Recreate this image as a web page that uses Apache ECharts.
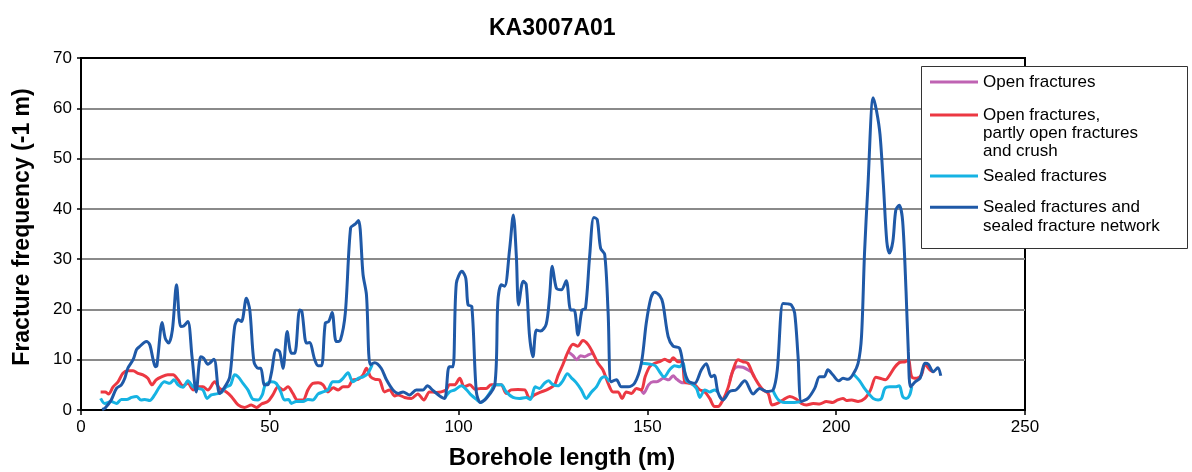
<!DOCTYPE html>
<html>
<head>
<meta charset="utf-8">
<script src="https://cdn.jsdelivr.net/npm/echarts@6/dist/echarts.min.js"></script>
<style>
  html, body { margin: 0; padding: 0; background: #fff; }
  #chart { width: 1192px; height: 472px; }
</style>
</head>
<body>
<div id="chart"></div>
<script>
var FONT = '"Liberation Sans", Arial, sans-serif';

// axis ticks
var xTicks = [0, 50, 100, 150, 200, 250];
var yTicks = [0, 10, 20, 30, 40, 50, 60, 70];

// series names (legend order)
var names = [
  'Open fractures',
  'Open fractures,\npartly open fractures\nand crush',
  'Sealed fractures',
  'Sealed fractures and\nsealed fracture network'
];

// Open fractures - only visible where it differs from the red curve
var openSeg1 = [[129.0,11.6],[130.3,10.8],[131.3,10.0],[132.3,10.8],[133.3,10.6],[134.5,11.0],[135.6,11.3]];
var openSeg2 = [[148.4,4.0],[149.0,3.3],[150.3,5.0],[151.5,5.6],[152.5,5.6],[154.3,6.3],[155.6,6.0],[156.8,6.8],[157.8,6.1],[159.4,5.4],[160.3,5.4]];
var openSeg3 = [[171.8,5.8],[172.8,8.0],[174.0,8.6],[175.3,8.5],[176.6,8.0],[177.6,7.5],[178.3,6.6]];

// Open fractures, partly open fractures and crush
var openPartly = [[5.2,3.6],[6.4,3.6],[7.3,3.2],[8.5,4.6],[9.8,5.6],[11.1,7.3],[12.4,7.8],[13.8,7.8],[15.1,7.3],[16.4,7.0],[17.7,6.3],[18.8,5.0],[19.9,6.0],[21.3,6.6],[23.0,7.0],[24.4,7.0],[25.7,6.0],[27.0,4.8],[28.3,5.3],[29.7,4.0],[31.0,4.6],[32.3,4.6],[33.6,4.0],[35.4,5.6],[36.7,4.3],[38.5,3.6],[39.8,2.7],[41.6,1.0],[43.3,0.5],[45.1,1.0],[46.5,0.5],[47.8,1.2],[49.5,1.7],[50.8,3.0],[52.2,4.6],[53.5,4.0],[54.8,4.6],[56.1,3.3],[57.3,2.0],[58.8,2.0],[60.1,4.0],[61.4,5.3],[62.8,5.4],[64.1,5.0],[65.4,3.6],[66.8,4.4],[68.1,4.0],[69.4,4.6],[70.7,4.6],[72.0,6.0],[73.4,6.1],[74.7,7.0],[75.6,8.3],[76.7,6.6],[77.9,6.1],[79.0,6.0],[80.4,3.6],[81.7,4.0],[83.1,2.8],[84.0,3.0],[85.7,2.5],[87.5,2.3],[89.2,3.2],[90.8,2.0],[92.3,3.6],[94.1,3.5],[95.4,3.6],[96.7,4.0],[97.6,5.0],[98.9,5.0],[100.3,6.3],[101.5,4.6],[103.0,5.0],[104.4,4.1],[105.8,4.3],[107.3,4.3],[108.6,5.0],[110.0,5.0],[111.3,5.0],[112.6,3.3],[113.9,4.0],[115.7,4.1],[117.5,4.0],[118.8,2.3],[120.1,3.0],[121.9,3.6],[123.6,4.1],[125.4,5.0],[126.3,6.8],[127.6,9.0],[129.0,11.6],[130.3,13.1],[131.6,12.7],[132.9,13.8],[134.3,13.0],[135.6,11.3],[136.9,9.3],[138.2,8.0],[139.6,5.3],[140.9,3.6],[142.2,3.6],[143.3,2.3],[144.4,3.6],[145.8,3.3],[147.1,4.3],[148.4,4.0],[149.4,6.6],[150.6,8.6],[151.9,9.3],[153.3,9.6],[154.6,10.1],[155.9,9.6],[156.8,10.4],[158.1,9.6],[159.2,9.6],[159.9,5.6],[161.2,5.3],[162.5,5.0],[163.9,4.0],[165.2,3.6],[166.5,2.3],[167.8,0.7],[168.7,0.7],[170.0,2.0],[171.3,4.3],[172.7,8.0],[174.0,10.0],[175.3,9.6],[176.6,9.3],[178.0,7.0],[179.3,5.3],[180.6,4.0],[182.0,3.3],[183.0,1.0],[184.4,1.3],[185.9,2.0],[187.7,2.7],[189.4,2.2],[190.8,1.3],[192.1,1.0],[193.9,1.3],[195.6,1.2],[197.4,1.7],[199.1,1.5],[200.4,2.0],[201.8,2.3],[202.7,1.9],[204.1,2.0],[205.8,1.7],[207.6,2.3],[209.1,4.0],[210.5,6.5],[211.6,6.3],[213.0,6.0],[214.2,7.0],[215.6,8.6],[216.9,9.5],[218.3,9.6],[219.1,10.0],[220.0,6.6],[221.3,6.3],[222.6,7.0],[223.5,9.1],[224.8,8.0],[225.7,7.6]];

// Sealed fractures - pieces not hidden under the dark blue curve
var sealedSeg1 = [[5.2,2.3],[6.3,1.3],[8.0,1.7],[9.4,1.3],[10.7,2.1],[12.1,2.1],[13.4,2.5],[14.7,2.7],[15.9,2.0],[16.9,2.1],[18.2,1.9],[19.5,3.0],[20.8,4.6],[22.1,5.6],[23.5,5.3],[24.6,6.0],[25.7,5.0],[27.0,4.5],[28.3,5.8],[29.7,4.6],[31.0,4.3],[32.3,4.0],[33.4,2.3],[34.5,3.0],[35.8,3.2],[37.2,3.5],[38.5,4.6],[39.6,5.0],[40.7,7.0],[41.6,6.6],[42.9,5.3],[44.2,4.0],[45.6,2.1],[46.9,2.0],[48.0,3.0],[48.8,5.0],[50.4,5.6],[51.7,5.3],[52.9,3.6],[53.9,2.0],[55.0,2.1],[55.7,1.3],[57.0,1.7],[58.8,1.7],[60.1,2.1],[61.4,2.0],[62.8,3.2],[64.1,3.6],[65.4,4.0],[66.7,5.6],[68.1,5.6],[69.4,6.3],[70.7,7.4],[72.0,5.6],[73.4,6.3],[74.7,6.6],[76.0,7.3],[77.1,9.0]];
var sealedSeg2 = [[96.3,2.3],[97.6,3.6],[99.0,4.0],[100.7,4.8],[102.0,4.1],[103.3,3.0],[104.7,2.1],[105.8,1.5],[107.3,2.4],[108.6,3.8],[109.6,5.0],[111.3,5.0],[112.6,3.6],[114.4,2.5],[116.1,2.3],[117.9,2.5],[119.0,2.1],[120.3,4.6],[121.4,4.3],[122.7,5.3],[123.8,5.8],[124.9,5.1],[126.3,4.8],[127.6,5.8],[128.8,7.2],[130.0,6.3],[131.2,5.4],[132.5,4.0],[133.8,2.3],[135.2,3.6],[136.5,4.6],[137.8,6.3],[138.7,6.6],[140.0,5.6]];
var sealedSeg3 = [[148.6,9.3],[150.8,9.1],[152.1,8.8],[153.5,7.3],[154.4,6.6],[155.9,8.0],[157.2,8.8],[158.5,8.6],[159.4,9.3],[160.3,5.9],[161.6,5.3],[163.0,4.3],[163.9,2.5],[165.2,4.0],[166.5,3.6],[167.8,4.0],[168.7,3.6]];
var sealedSeg4 = [[183.3,3.8],[184.6,2.1],[186.3,1.5],[188.5,1.5],[190.8,1.7]];
var sealedSeg5 = [[204.6,7.1],[206.2,5.8],[207.5,4.3],[208.9,3.0],[209.8,2.3],[211.1,2.0],[212.0,2.3],[212.9,4.3],[214.2,4.6],[215.6,4.6],[216.7,4.8],[217.6,2.7],[218.5,2.3],[219.4,2.9],[220.0,4.6]];

// Sealed fractures and sealed fracture network
var sealedNetwork = [[5.6,0.1],[6.4,0.4],[8.0,2.0],[9.4,4.3],[10.7,5.0],[11.6,6.3],[12.4,8.3],[13.8,10.0],[14.7,12.0],[15.5,12.6],[17.3,13.6],[18.2,13.0],[19.1,10.0],[19.7,8.6],[20.1,8.8],[21.5,17.4],[22.3,14.3],[23.2,13.3],[24.2,15.9],[25.3,24.9],[26.4,16.6],[27.2,16.7],[28.3,17.6],[29.4,10.6],[30.5,3.6],[31.7,10.6],[32.5,10.3],[33.6,9.1],[35.2,10.1],[36.7,3.3],[38.1,4.6],[39.4,6.6],[40.7,16.6],[41.6,18.0],[42.5,17.6],[43.8,22.2],[44.7,19.9],[45.8,9.6],[46.9,8.3],[47.6,8.3],[48.6,5.0],[49.5,5.0],[50.4,7.3],[51.7,12.0],[52.6,11.6],[53.5,8.3],[54.6,15.6],[55.7,11.3],[56.6,11.3],[57.9,19.9],[58.5,19.6],[59.7,13.3],[60.5,13.4],[61.9,10.0],[62.8,8.8],[63.7,8.8],[64.7,17.3],[65.6,17.6],[66.5,19.4],[67.6,13.6],[68.7,13.9],[70.0,19.3],[71.4,36.2],[72.5,36.9],[73.5,37.7],[74.7,26.9],[75.6,22.9],[76.6,9.0],[77.8,9.4],[79.5,8.3],[80.9,6.0],[82.6,4.0],[84.0,3.3],[85.3,3.6],[87.0,3.0],[88.8,4.0],[90.6,4.0],[91.7,4.8],[93.2,3.9],[95.0,2.8],[96.3,2.3],[97.5,8.6],[98.5,8.6],[99.4,25.2],[100.9,27.6],[101.9,26.2],[102.5,20.9],[103.5,20.6],[104.7,3.6],[105.8,1.5],[107.3,2.3],[109.6,5.0],[110.4,21.6],[111.3,24.9],[112.2,24.6],[113.5,31.9],[114.5,38.8],[115.3,30.5],[115.9,20.9],[117.1,25.6],[117.9,25.0],[118.8,14.6],[119.7,10.6],[120.6,15.9],[121.7,15.7],[123.2,17.1],[124.1,22.6],[124.8,28.6],[125.9,24.2],[127.2,23.9],[128.5,25.7],[129.7,19.9],[130.6,19.9],[131.6,14.9],[132.7,19.9],[133.6,20.2],[134.7,30.5],[135.8,38.3],[136.7,37.9],[137.6,32.2],[138.7,30.9],[139.6,19.3],[140.4,5.6],[141.8,6.0],[143.1,4.6],[144.9,4.6],[146.6,5.3],[148.4,9.3],[149.7,17.3],[150.9,22.2],[151.9,23.4],[153.3,22.7],[154.1,21.2],[155.5,14.6],[156.8,12.7],[158.5,12.3],[159.7,8.0],[160.8,5.8],[162.5,5.3],[164.3,8.0],[165.6,9.2],[166.9,6.6],[167.7,6.9],[168.7,3.5],[170.0,2.0],[171.8,3.7],[173.5,4.0],[175.8,5.8],[178.0,3.2],[179.7,4.3],[181.5,3.7],[183.3,4.0],[184.4,8.0],[185.9,21.2],[187.2,21.1],[188.1,20.9],[189.0,19.3],[189.9,10.6],[190.8,1.7],[192.5,2.3],[194.3,4.3],[195.6,6.6],[196.8,6.6],[197.8,8.0],[199.1,7.0],[200.7,5.8],[201.8,6.3],[203.1,6.1],[204.4,7.0],[205.8,9.3],[206.7,14.6],[207.5,31.2],[208.4,44.5],[209.8,62.1],[210.7,59.4],[211.6,54.8],[212.5,44.8],[213.4,33.5],[214.1,31.2],[215.0,33.5],[215.8,39.8],[216.7,40.7],[217.6,37.5],[218.5,23.6],[219.1,11.6],[219.7,4.6],[220.9,5.6],[222.2,6.3],[223.5,9.3],[224.4,9.1],[225.7,7.6],[226.9,8.4],[227.7,6.8]];

var colors = ['#bf63b3', '#ec3842', '#16b3e3', '#1f59a7'];

// join pieces with an empty point so the line breaks between them
function joinSegments(segs) {
  var out = [];
  for (var i = 0; i < segs.length; i++) {
    if (i > 0) out.push([segs[i][0][0], '-']);
    out = out.concat(segs[i]);
  }
  return out;
}

function lineSeries(i, data) {
  return {
    name: names[i],
    type: 'line',
    data: data,
    symbol: 'none',
    smooth: 0.3,
    connectNulls: false,
    lineStyle: { color: colors[i], width: 3 },
    itemStyle: { color: colors[i] },
    z: 2 + i
  };
}

// one legend per item so the line sample sits on the first text line
function legendAt(i, top, blankLines, lineH) {
  var pre = '';
  for (var k = 0; k < blankLines; k++) pre += '\n';
  return {
    data: [names[i]],
    left: 930,
    top: top,
    padding: 0,
    icon: 'rect',
    itemWidth: 48,
    itemHeight: 3,
    selectedMode: false,
    formatter: function (name) { return pre + name; },
    textStyle: { fontFamily: FONT, fontSize: 17, color: '#000', lineHeight: lineH },
    z: 20
  };
}

var chart = echarts.init(document.getElementById('chart'));
chart.setOption({
  animation: false,
  backgroundColor: '#fff',
  title: {
    text: 'KA3007A01',
    left: 484,
    top: 12,
    textStyle: { fontFamily: FONT, fontSize: 23, fontWeight: 'bold', color: '#000' }
  },
  grid: {
    left: 81, right: 167, top: 58, bottom: 62,
    outerBoundsMode: 'none',
    show: true, borderColor: '#000', borderWidth: 2, backgroundColor: '#fff'
  },
  xAxis: {
    type: 'value',
    min: xTicks[0], max: xTicks[xTicks.length - 1], interval: 50,
    name: 'Borehole length (m)',
    nameLocation: 'middle',
    nameGap: 36,
    nameTextStyle: { fontFamily: FONT, fontSize: 24, fontWeight: 'bold', color: '#000', padding: [0, 0, 0, 18] },
    axisLine: { lineStyle: { color: '#000', width: 2 } },
    axisTick: { show: true, length: 5, lineStyle: { color: '#000', width: 1.5 } },
    axisLabel: { fontFamily: FONT, fontSize: 17, color: '#000', margin: 9 },
    splitLine: { show: false }
  },
  yAxis: {
    type: 'value',
    min: yTicks[0], max: yTicks[yTicks.length - 1], interval: 10,
    name: 'Fracture frequency (-1 m)',
    nameLocation: 'middle',
    nameGap: 47,
    nameTextStyle: { fontFamily: FONT, fontSize: 23, fontWeight: 'bold', color: '#000', padding: [0, 0, 0, 14] },
    axisLine: { show: true, lineStyle: { color: '#000', width: 2 } },
    axisTick: { show: true, length: 4, lineStyle: { color: '#000', width: 1.5 } },
    axisLabel: { fontFamily: FONT, fontSize: 17, color: '#000', margin: 9 },
    splitLine: { show: true, showMinLine: false, showMaxLine: false, lineStyle: { color: '#8a8a8a', width: 2 } }
  },
  legend: [
    legendAt(0, 73, 0, 18),
    legendAt(1, 70, 2, 18),
    legendAt(2, 167, 0, 18),
    legendAt(3, 178, 1, 19.5)
  ],
  graphic: [{
    type: 'rect',
    shape: { x: 921.5, y: 66.5, width: 266, height: 182 },
    style: { fill: '#fff', stroke: '#333', lineWidth: 1 },
    z: 10
  }],
  series: [
    lineSeries(0, joinSegments([openSeg1, openSeg2, openSeg3])),
    lineSeries(1, openPartly),
    lineSeries(2, joinSegments([sealedSeg1, sealedSeg2, sealedSeg3, sealedSeg4, sealedSeg5])),
    lineSeries(3, sealedNetwork)
  ]
});
</script>
</body>
</html>
